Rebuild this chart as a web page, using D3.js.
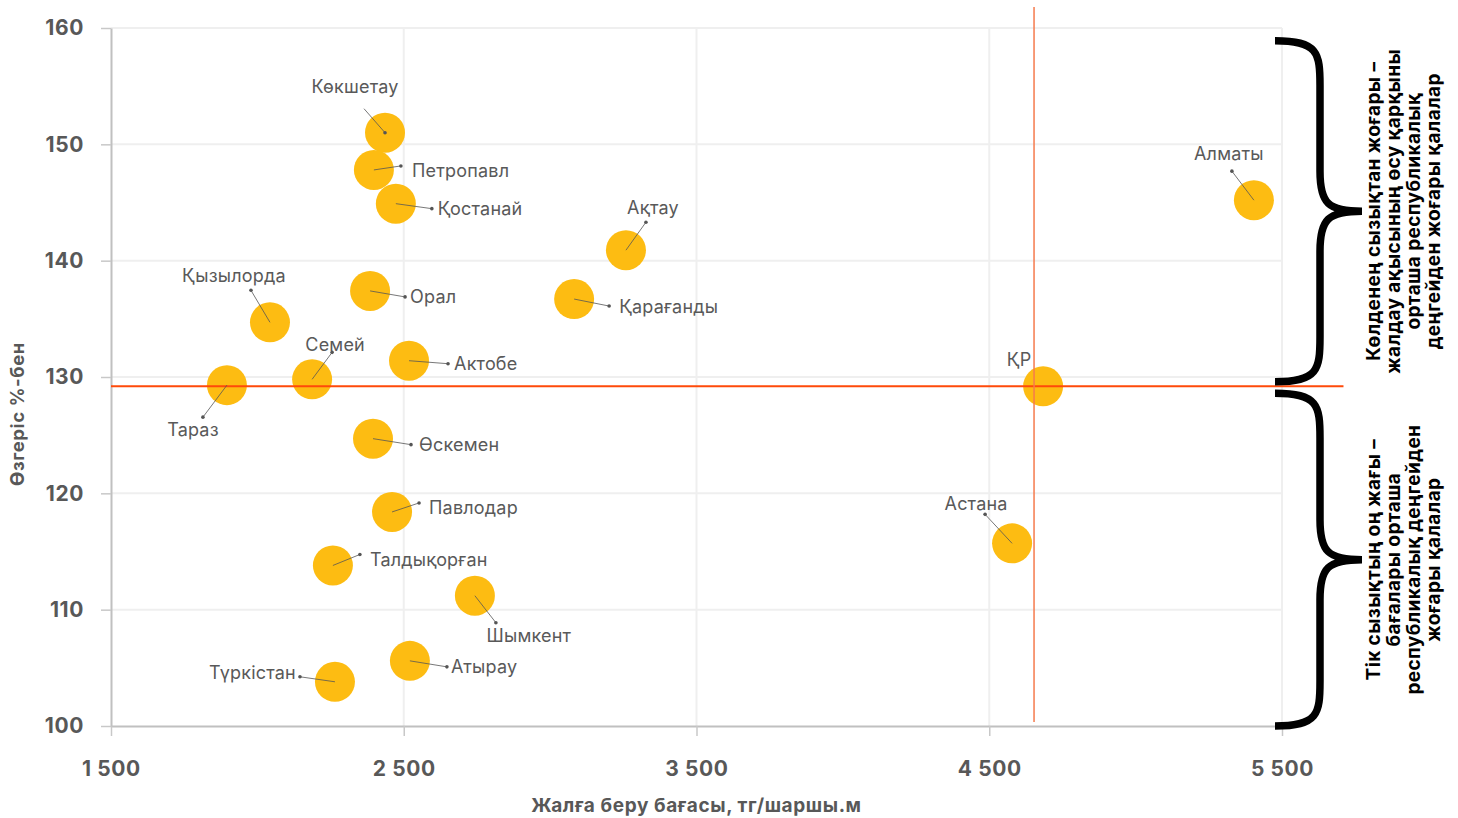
<!DOCTYPE html>
<html lang="kk">
<head>
<meta charset="utf-8" />
<title>Жалға беру бағасы</title>
<script src="https://cdn.jsdelivr.net/npm/d3@7"></script>
<style>
    body { margin: 0; background: #fff; }
    svg text { font-family: Inter, "Noto Sans", sans-serif; }
</style>
</head>
<body>
<div id="chart"></div>
<script>
    // city data: rent price (tg / sq.m) and change in %
    var cities = ["Көкшетау", "Петропавл", "Қостанай", "Ақтау", "Қызылорда", "Орал", "Қарағанды", "Алматы",
        "Семей", "Актобе", "Тараз", "ҚР", "Өскемен", "Павлодар", "Астана", "Талдықорған", "Шымкент", "Атырау", "Түркістан"];
    var prices = [2436, 2398, 2473, 3259, 2043, 2385, 3082, 5404,
        2187, 2518, 1896, 4684, 2395, 2460, 4578, 2258, 2743, 2521, 2265];
    var growth = [151.0, 147.8, 144.9, 140.9, 134.7, 137.4, 136.7, 145.2,
        129.8, 131.4, 129.3, 129.2, 124.7, 118.4, 115.7, 113.8, 111.2, 105.6, 103.8];

    // label placement relative to point: [line end dx, line end dy, text dx, text dy, anchor, dot at point]
    var labelPlacement = [
        [-21, -24, -30, -46, "middle", true], [27, -4, 38, 1, "start"], [36, 5, 42, 5, "start"], [20, -28, 27, -43, "middle"],
        [-19, -32, -36, -47, "middle"], [35, 6, 40, 6, "start"], [35, 7, 45, 7, "start"], [-22, -29, -25, -47, "middle"],
        [20, -27, 23, -35, "middle"], [39, 3, 45, 3, "start"], [-24, 32, -34, 44, "middle"], [-9, -10, -24, -27, "middle"],
        [38, 6, 46, 6, "start"], [27, -9, 37, -4, "start"], [-27, -29, -36, -40, "middle"], [27, -11, 37, -6, "start"],
        [21, 27, 54, 40, "middle"], [37, 6, 41, 6, "start"], [-35, -5, -39, -9, "end"]
    ];

    var xTicks = [1500, 2500, 3500, 4500, 5500];
    var yTicks = [100, 110, 120, 130, 140, 150, 160];
    var avgPrice = 4653;
    var avgGrowth = 129.2;

    var xTitle = "Жалға беру бағасы, тг/шаршы.м";
    var yTitle = "Өзгеріс %-бен";
    var topNote = ["Көлденең сызықтан жоғары –", "жалдау ақысының өсу қарқыны", "орташа республикалық", "деңгейден жоғары қалалар"];
    var bottomNote = ["Тік сызықтың оң жағы –", "бағалары орташа", "республикалық деңгейден", "жоғары қалалар"];

    var W = 1458, H = 818;
    var margin = { top: 28, left: 111, right: 176, bottom: 92 };

    var svg = d3.select("#chart").append("svg")
        .attr("width", W)
        .attr("height", H);

    var x = d3.scaleLinear().domain([1500, 5500]).range([margin.left, W - margin.right]);
    var y = d3.scaleLinear().domain([100, 160]).range([H - margin.bottom, margin.top]);

    var fmt = function (d) { return d3.format(",")(d).replace(",", " "); };

    // grid
    svg.append("g").selectAll("line.gy").data(yTicks.slice(1)).enter()
        .append("line")
        .attr("x1", x(1500)).attr("x2", x(5500))
        .attr("y1", function (d) { return y(d); }).attr("y2", function (d) { return y(d); })
        .attr("stroke", "#efefef").attr("stroke-width", 2);
    svg.append("g").selectAll("line.gx").data(xTicks.slice(1)).enter()
        .append("line")
        .attr("x1", function (d) { return x(d); }).attr("x2", function (d) { return x(d); })
        .attr("y1", y(100)).attr("y2", y(160))
        .attr("stroke", "#efefef").attr("stroke-width", 2);

    // axes
    var xAxis = svg.append("g")
        .attr("transform", "translate(0," + y(100) + ")")
        .call(d3.axisBottom(x).tickValues(xTicks).tickFormat(fmt).tickSize(10).tickSizeOuter(0).tickPadding(25));
    var yAxis = svg.append("g")
        .attr("transform", "translate(" + x(1500) + ",0)")
        .call(d3.axisLeft(y).tickValues(yTicks).tickSize(10).tickSizeOuter(0).tickPadding(17));
    [xAxis, yAxis].forEach(function (a) {
        a.select(".domain").attr("stroke", "#c0c0c0").attr("stroke-width", 2);
        a.selectAll(".tick line").attr("stroke", "#c8c8c8").attr("stroke-width", 1.5);
        a.selectAll(".tick text")
            .attr("fill", "#585858")
            .style("font-size", "21px")
            .style("font-weight", 700)
            .style("letter-spacing", "0.6px");
    });

    svg.append("text")
        .attr("x", (x(1500) + x(5500)) / 2).attr("y", 812)
        .attr("text-anchor", "middle")
        .attr("fill", "#585858")
        .style("font-size", "19px").style("font-weight", 700)
        .style("letter-spacing", "0.6px")
        .text(xTitle);
    svg.append("text")
        .attr("transform", "translate(24," + 414 + ") rotate(-90)")
        .attr("text-anchor", "middle")
        .attr("fill", "#585858")
        .style("font-size", "18.5px").style("font-weight", 700)
        .style("letter-spacing", "0.6px")
        .text(yTitle);

    // points
    var data = cities.map(function (c, i) {
        return { name: c, price: prices[i], growth: growth[i], lp: labelPlacement[i] };
    });

    svg.append("g").selectAll("circle").data(data).enter()
        .append("circle")
        .attr("cx", function (d) { return x(d.price); })
        .attr("cy", function (d) { return y(d.growth); })
        .attr("r", 20)
        .attr("fill", "#fdbc12");

    // reference lines
    svg.append("line")
        .attr("x1", x(1500)).attr("x2", x(5710))
        .attr("y1", y(avgGrowth)).attr("y2", y(avgGrowth))
        .attr("stroke", "#ff4a0a").attr("stroke-width", 2);
    svg.append("line")
        .attr("x1", x(avgPrice)).attr("x2", x(avgPrice))
        .attr("y1", y(161.8)).attr("y2", y(100.35))
        .attr("stroke", "#f57a4d").attr("stroke-width", 1.5);

    // leader lines + labels
    var lab = svg.append("g").selectAll("g").data(data).enter().append("g")
        .attr("transform", function (d) { return "translate(" + x(d.price) + "," + y(d.growth) + ")"; });
    var led = lab.filter(function (d) { return d.name !== "ҚР"; });
    led.append("line")
        .attr("x1", 0).attr("y1", 0)
        .attr("x2", function (d) { return d.lp[0]; })
        .attr("y2", function (d) { return d.lp[1]; })
        .attr("stroke", "#555").attr("stroke-width", 0.8);
    led.append("circle")
        .attr("cx", function (d) { return d.lp[5] ? 0 : d.lp[0]; })
        .attr("cy", function (d) { return d.lp[5] ? 0 : d.lp[1]; })
        .attr("r", 1.8)
        .attr("fill", "#555");
    lab.append("text")
        .attr("x", function (d) { return d.lp[2]; })
        .attr("y", function (d) { return d.lp[3]; })
        .attr("dy", "0.36em")
        .attr("text-anchor", function (d) { return d.lp[4]; })
        .attr("fill", "#595959")
        .style("font-size", "18px")
        .style("letter-spacing", "0.2px")
        .text(function (d) { return d.name; });

    // braces
    function brace(top, bottom, xl, xr) {
        var mid = (top + bottom) / 2;
        var xm = xl + 45;
        return "M" + xl + "," + top +
            " C" + (xm - 2) + "," + top + " " + xm + "," + (top + 12) + " " + xm + "," + (top + 45) +
            " L" + xm + "," + (mid - 40) +
            " C" + xm + "," + (mid - 8) + " " + (xm + 8) + "," + mid + " " + xr + "," + mid +
            " C" + (xm + 8) + "," + mid + " " + xm + "," + (mid + 8) + " " + xm + "," + (mid + 40) +
            " L" + xm + "," + (bottom - 45) +
            " C" + xm + "," + (bottom - 12) + " " + (xm - 2) + "," + bottom + " " + xl + "," + bottom;
    }
    svg.append("path")
        .attr("d", brace(y(158.9), y(129.6), 1275, 1362))
        .attr("fill", "none").attr("stroke", "#000").attr("stroke-width", 7.5);
    svg.append("path")
        .attr("d", brace(y(128.6), y(100), 1275, 1362))
        .attr("fill", "none").attr("stroke", "#000").attr("stroke-width", 7.5);

    function note(lines, cy) {
        var t = svg.append("text")
            .attr("transform", "translate(1380," + cy + ") rotate(-90)")
            .attr("text-anchor", "middle")
            .attr("fill", "#000")
            .style("font-size", "19px").style("font-weight", 700)
            .style("letter-spacing", "0.4px");
        t.selectAll("tspan").data(lines).enter().append("tspan")
            .attr("x", 0)
            .attr("dy", function (d, i) { return i === 0 ? 0 : 20; })
            .text(function (d) { return d; });
    }
    note(topNote, (y(158.9) + y(129.6)) / 2);
    note(bottomNote, (y(128.6) + y(100)) / 2);
</script>
</body>
</html>
